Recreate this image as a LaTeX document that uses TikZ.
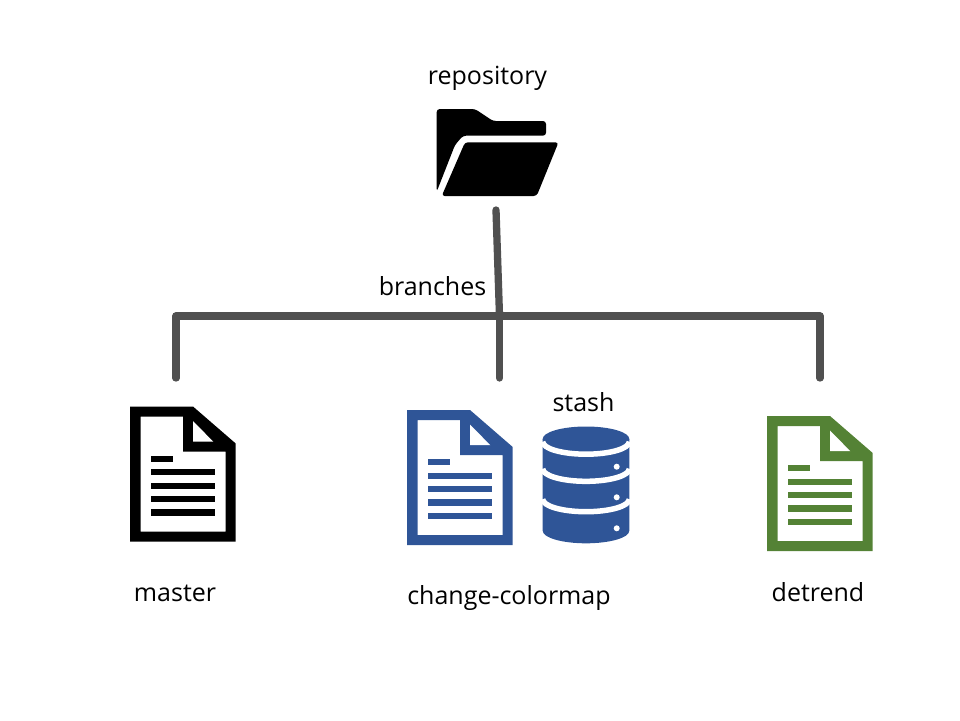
\documentclass[tikz,border=0pt]{standalone}
\usepackage{fontspec}
\setmainfont{Open Sans}
\usetikzlibrary{backgrounds}
\definecolor{lblue}{HTML}{2F5597}
\definecolor{lgreen}{HTML}{548235}
\definecolor{lgray}{HTML}{505050}
\tikzstyle{none}=[inner sep=0pt]
\tikzstyle{label}=[inner sep=0pt,font=\fontsize{25}{29}\selectfont]
\tikzstyle{branch}=[-,draw=lgray,line width=7.3,line cap=round,line join=round]
\pgfdeclarelayer{edgelayer}
\pgfdeclarelayer{nodelayer}
\pgfsetlayers{edgelayer,nodelayer,main}
% page icon, #1 = top left corner, #2 = colour
\newcommand{\pageicon}[2]{
	\begin{scope}[shift={#1}]
		\fill [#2, even odd rule] (0,0) -- (63,0) -- (105.7,37) -- (105.7,135.2) -- (0,135.2) -- cycle
			(10.5,10.2) -- (10.5,125) -- (95.7,125) -- (95.7,45.2) -- (53,45.2) -- (53,10.2) -- cycle;
		\fill [white] (63,14.5) -- (63,35.2) -- (83.3,35.2) -- cycle;
		\fill [#2] (20.7,49.2) rectangle (42.7,55.2);
		\fill [#2] (20.7,62.6) rectangle (85,68.8);
		\fill [#2] (20.7,76) rectangle (85,82.4);
		\fill [#2] (20.7,89.2) rectangle (85,95.8);
		\fill [#2] (20.7,102.8) rectangle (85,109.2);
	\end{scope}
}
\begin{document}
\begin{tikzpicture}[x=1pt,y=-1pt]
	\useasboundingbox (0,0) rectangle (960,720);
	\begin{pgfonlayer}{nodelayer}
		\node [style=label] (repository) at (487.5, 78) {repository};
		\node [style=label] (branches) at (432.5, 286) {branches};
		\node [style=label] (stash) at (583.5, 402) {stash};
		\node [style=label] (master) at (175, 593) {master};
		\node [style=label] (colormap) at (509, 598) {change-colormap};
		\node [style=label] (detrend) at (818, 592) {detrend};

		\node [style=none] (top) at (496, 210) {};
		\node [style=none] (mid) at (499.5, 316) {};
		\node [style=none] (left) at (176, 316) {};
		\node [style=none] (right) at (820, 316) {};
		\node [style=none] (masterend) at (176, 378) {};
		\node [style=none] (colormapend) at (499.5, 378) {};
		\node [style=none] (detrendend) at (820, 378) {};

		% folder
		\fill [black, rounded corners=3] (436.7,109) -- (475,109) -- (493,121) -- (546,121) -- (546,135.7) -- (463,135.7) -- (455,145) -- (436.7,191.7) -- cycle;
		\fill [black, rounded corners=3] (465,142.3) -- (558.5,142.3) -- (536.7,196) -- (441.7,196) -- cycle;

		\pageicon{(130,406.5)}{black}
		\pageicon{(407,410)}{lblue}
		\pageicon{(767,416)}{lgreen}

		% stash
		\fill [lblue] (542.7,439) -- (542.7,530.8) arc (180:0:43.3 and 12.5) -- (629.3,439) -- cycle;
		\fill [lblue] (586,439) ellipse (43.3 and 12.5);
		\draw [white, line width=5.5] (542.7,441.7) arc (180:0:43.3 and 12.5);
		\draw [white, line width=5.5] (542.7,468.8) arc (180:0:43.3 and 12.5);
		\draw [white, line width=5.5] (542.7,499.2) arc (180:0:43.3 and 12.5);
		\fill [white] (616.7,466.7) circle (3);
		\fill [white] (616.7,497.3) circle (3);
		\fill [white] (616.7,528.3) circle (3);
	\end{pgfonlayer}
	\begin{pgfonlayer}{edgelayer}
		\draw [style=branch] (top.center) to (mid.center);
		\draw [style=branch] (masterend.center) -- (left.center) -- (right.center) -- (detrendend.center);
		\draw [style=branch] (mid.center) to (colormapend.center);
	\end{pgfonlayer}
\end{tikzpicture}
\end{document}
